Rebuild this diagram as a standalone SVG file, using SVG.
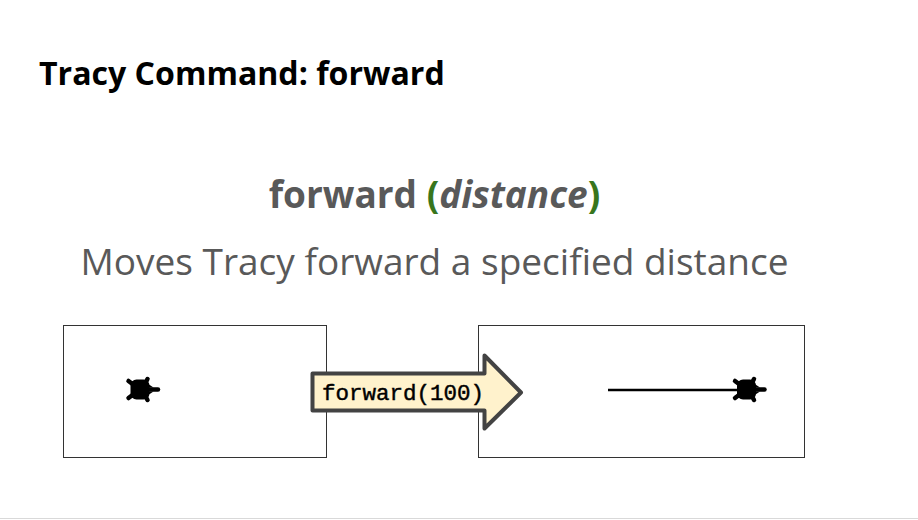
<svg xmlns="http://www.w3.org/2000/svg" width="918" height="520" viewBox="0 0 918 520">
<style>
text{font-family:"Open Sans","Noto Sans",sans-serif}
.frame{fill:#fff;stroke:#333;stroke-width:1}
.turtle{fill:#000;stroke:#000;stroke-linecap:round}
</style>
<defs>
<g id="turtle">
<rect x="-8" y="-10" width="19" height="20" rx="6" stroke="none"/>
<path d="M-10-8.500L-4-4M9-10.500L6-5M-10 8.500L-4 4M9 10.500L6 5" fill="none" stroke-width="4.500"/>
<path d="M8 0H19.500" fill="none" stroke-width="4.500"/>
<path d="M9-6L15-2H9ZM9 6L15 2H9Z" stroke="none"/>
</g>
</defs>
<rect width="918" height="520" fill="#fff"/>
<text id="title" x="39" y="85" font-size="32.100" font-weight="700" fill="#000">Tracy Command: forward</text>
<text id="signature" x="434.500" y="208" font-size="37" font-weight="700" fill="#595959" text-anchor="middle">forward <tspan fill="#38761d">(</tspan><tspan font-style="italic">distance</tspan><tspan fill="#38761d">)</tspan></text>
<text id="description" x="434.500" y="275" font-size="37" fill="#595959" text-anchor="middle">Moves Tracy forward a specified distance</text>
<g id="before">
<rect class="frame" x="63.500" y="325.500" width="263" height="132"/>
<use href="#turtle" class="turtle" x="138.500" y="389.500"/>
</g>
<g id="after">
<rect class="frame" x="478.500" y="325.500" width="326" height="132"/>
<use href="#turtle" class="turtle" x="745" y="389.500"/>
</g>
<g id="connectors">
<line x1="608" y1="390" x2="745" y2="390" stroke="#000" stroke-width="2.500"/>
</g>
<g id="command">
<path d="M312.500 373.500H484.500V355.500L521 392.500L484.500 428.500V410.500H312.500Z" fill="#fff2cc" stroke="#434343" stroke-width="4" stroke-linejoin="round"/>
<text x="322" y="400" font-size="22.500" fill="#000" style="font-family:'Liberation Mono',monospace;stroke:#000;stroke-width:.45">forward(100)</text>
</g>
<rect id="rule" x="0" y="518" width="918" height="1" fill="#d9d9d9"/>
</svg>
